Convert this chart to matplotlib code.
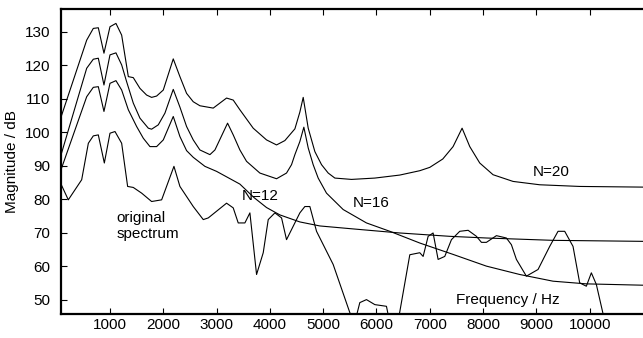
import matplotlib
matplotlib.use('Agg')
import matplotlib.pyplot as plt

# all curves: frequency in Hz, magnitude in dB
orig_f = [81, 218, 469, 594, 687, 781, 894, 1000, 1094, 1219, 1331, 1437, 1594,
          1781, 1969, 2200, 2312, 2562, 2750, 2844, 3187, 3312, 3406, 3531, 3625,
          3750, 3875, 3969, 4094, 4219, 4312, 4562, 4656, 4750, 4875, 5187, 5500,
          5590, 5687, 5812, 5969, 6187, 6250, 6400, 6625, 6812, 6875, 6969, 7062,
          7156, 7281, 7406, 7562, 7719, 7875, 7969, 8062, 8250, 8437, 8531, 8625,
          8812, 9031, 9250, 9406, 9531, 9687, 9812, 9937, 10031, 10125, 10250,
          10400, 11000]
orig_db = [84.5, 79.8, 85.8, 96.7, 98.9, 99.2, 90.8, 99.7, 100.2, 96.7, 83.8, 83.5,
           81.8, 79.3, 79.8, 89.8, 83.8, 77.8, 73.9, 74.4, 78.8, 77.4, 72.9, 72.9,
           75.9, 57.5, 64.0, 73.9, 75.9, 74.4, 67.9, 75.9, 77.8, 77.8, 70.4, 60.5,
           46.1, 43.0, 49.1, 50.0, 48.5, 48.0, 43.0, 43.0, 63.4, 64.0, 62.9, 68.9,
           69.9, 62.0, 62.9, 67.9, 70.4, 70.7, 68.9, 67.1, 67.1, 69.1, 68.4, 66.4,
           62.0, 57.0, 59.0, 65.9, 70.4, 70.4, 65.9, 55.0, 54.0, 58.0, 54.5, 45.8,
           40.0, 38.0]

n12_f = [81, 563, 687, 781, 887, 1000, 1112, 1219, 1344, 1500, 1625, 1750, 1875,
         2000, 2187, 2312, 2437, 2562, 2781, 3000, 3437, 3700, 3937, 4187, 4562,
         4937, 5500, 6437, 7375, 8062, 9312, 11000]
n12_db = [88.8, 110.6, 113.4, 113.6, 106.2, 114.6, 115.4, 112.6, 106.7, 101.7,
          98.2, 95.7, 95.7, 97.7, 104.7, 98.7, 94.5, 92.5, 89.8, 88.3, 84.5, 80.5,
          77.5, 75.3, 73.2, 72.0, 71.2, 69.9, 68.9, 68.4, 67.7, 67.4]

n16_f = [81, 563, 687, 781, 887, 1000, 1112, 1219, 1312, 1437, 1562, 1719, 1781,
         1906, 2031, 2187, 2312, 2437, 2562, 2687, 2875, 2969, 3206, 3312, 3437,
         3562, 3812, 4125, 4312, 4406, 4469, 4562, 4637, 4719, 4812, 4906, 5062,
         5375, 5812, 6250, 6812, 7437, 8062, 8687, 9312, 9937, 11000]
n16_db = [93.2, 119.1, 121.8, 122.1, 114.1, 123.1, 123.7, 120.1, 115.1, 108.7,
          104.2, 101.2, 100.9, 102.2, 105.7, 112.8, 107.5, 101.7, 97.7, 94.7, 93.3,
          94.7, 102.7, 99.2, 94.7, 91.3, 87.8, 86.1, 87.8, 90.3, 93.3, 97.2, 101.5,
          95.3, 90.3, 86.3, 81.8, 76.9, 72.9, 70.4, 66.9, 63.5, 60.0, 57.5, 55.5,
          54.7, 54.3]

n20_f = [81, 563, 687, 781, 887, 1000, 1112, 1219, 1344, 1437, 1562, 1687, 1781,
         1875, 2000, 2187, 2312, 2437, 2562, 2687, 2937, 3187, 3312, 3437, 3687,
         3937, 4125, 4281, 4469, 4562, 4625, 4719, 4844, 4969, 5094, 5219, 5531,
         5969, 6437, 6812, 7000, 7244, 7437, 7606, 7750, 7937, 8187, 8562, 9062,
         9812, 11000]
n20_db = [104.5, 127.5, 131.0, 131.2, 123.6, 131.5, 132.5, 129.0, 116.6, 116.3,
          113.1, 111.1, 110.4, 110.8, 112.6, 121.9, 116.6, 111.6, 109.1, 107.9,
          107.2, 110.2, 109.6, 106.7, 101.2, 97.7, 96.2, 97.5, 101.0, 106.0, 110.4,
          101.2, 94.2, 90.3, 87.8, 86.3, 85.9, 86.3, 87.2, 88.5, 89.5, 92.0, 95.7,
          101.2, 95.7, 90.8, 87.3, 85.3, 84.3, 83.8, 83.6]

x_ticks = [1000, 2000, 3000, 4000, 5000, 6000, 7000, 8000, 9000, 10000]
y_ticks = [50, 60, 70, 80, 90, 100, 110, 120, 130]

plt.rcParams['font.family'] = ['Liberation Sans', 'DejaVu Sans']
plt.rcParams['font.size'] = 11

fig = plt.figure(figsize=(6.43, 3.38), dpi=100)
ax = fig.add_axes([61 / 643, 24 / 338, 1 - 61 / 643, 305 / 338])

for f, db in [(orig_f, orig_db), (n12_f, n12_db), (n16_f, n16_db), (n20_f, n20_db)]:
    ax.plot(f, db, color='black', lw=0.8)

ax.set_xlim(81, 11000)
ax.set_ylim(45.7, 136.8)
ax.set_xticks(x_ticks)
ax.set_yticks(y_ticks)
ax.tick_params(direction='in', length=4, width=0.8, top=True, right=False,
               colors='black', labelsize=11)
ax.tick_params(axis='x', pad=3)
ax.tick_params(axis='y', pad=8)
ax.spines['right'].set_visible(False)
for s in ['left', 'top', 'bottom']:
    ax.spines[s].set_linewidth(1.6)

ax.set_ylabel('Magnitude / dB', labelpad=4)

ax.text(8931, 88.2, 'N=20', va='center', ha='left')
ax.text(5562, 78.9, 'N=16', va='center', ha='left')
ax.text(3469, 81.0, 'N=12', va='center', ha='left')
ax.text(1125, 72.1, 'original\nspectrum', va='center', ha='left', linespacing=1.2)
ax.text(7500, 50.0, 'Frequency / Hz', va='center', ha='left')

fig.savefig('out.png', dpi=100)
